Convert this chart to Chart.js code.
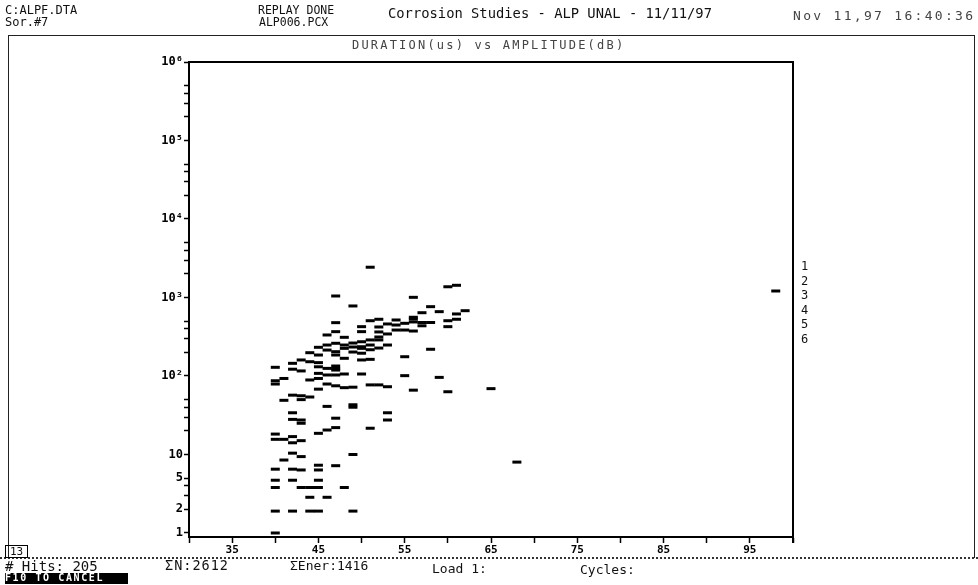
<!DOCTYPE html>
<html>
<head>
<meta charset="utf-8">
<script src="https://cdn.jsdelivr.net/npm/chart.js@4.4.1/dist/chart.umd.min.js"></script>
<style>
  html, body { margin: 0; padding: 0; background: #fff; }
  #wrap { position: relative; width: 978px; height: 585px; overflow: hidden; background: #fff;
          font-family: "DejaVu Sans Mono", "Liberation Mono", monospace; color: #111; }
  #wrap canvas { position: absolute; left: 0; top: 0; }
  .t { position: absolute; white-space: pre; line-height: 1; }
  .box { position: absolute; border-top: 1.5px solid #222; border-left: 1.5px solid #222; border-right: 1.5px solid #222; }
  .dots { position: absolute; border-top: 2px dotted #333; }
</style>
</head>
<body>
<div id="wrap">
  <canvas id="c" width="978" height="585"></canvas>

  <div class="box" style="left:8px; top:35px; width:965px; height:522px;"></div>
  <div class="dots" style="left:0; top:557px; width:978px;"></div>

  <div class="t" style="left:5px; top:4px; font-size:12px;">C:ALPF.DTA</div>
  <div class="t" style="left:5px; top:16px; font-size:12px;">Sor.#7</div>
  <div class="t" style="left:258px; top:5px; font-size:11.5px;">REPLAY DONE</div>
  <div class="t" style="left:259px; top:17px; font-size:11.5px;">ALP006.PCX</div>
  <div class="t" style="left:388px; top:7px; font-size:13.8px;">Corrosion Studies - ALP UNAL - 11/11/97</div>
  <div class="t" style="left:793px; top:9px; font-size:13px; letter-spacing:2.3px; color:#444;">Nov 11,97 16:40:36</div>
  <div class="t" style="left:352px; top:39px; font-size:12px; letter-spacing:2.2px; color:#444;">DURATION(us) vs AMPLITUDE(dB)</div>

  <div id="series" style="position:absolute; left:801px; top:0;"></div>

  <div class="t" style="left:5px; top:545px; width:21px; height:11px; border:1px solid #000; font-size:11px; text-align:center;">13</div>
  <div class="t" style="left:5px; top:559px; font-size:14px;"># Hits: 205</div>
  <div class="t" style="left:165px; top:559px; font-size:13.5px; letter-spacing:1px;">ΣN:2612</div>
  <div class="t" style="left:290px; top:559px; font-size:13px;">ΣEner:1416</div>
  <div class="t" style="left:432px; top:562px; font-size:13px;">Load 1:</div>
  <div class="t" style="left:580px; top:563px; font-size:13px;">Cycles:</div>
  <div class="t" style="left:5px; top:573px; width:123px; height:11px; background:#000; color:#fff; font-size:10px; letter-spacing:1.6px; font-weight:bold;">F10 TO CANCEL</div>
</div>

<script>
// Hit amplitude (dB) and duration (us), one entry per plotted hit
const amplitudeDb = [
  51, 60, 61, 47, 56, 49, 58, 57, 59, 61, 62, 61, 60, 60, 56, 56, 57, 58, 56, 54,
  54, 55, 55, 53, 53, 51, 52, 52, 52, 52, 50, 50, 51, 52, 52, 53, 49, 49, 49, 50,
  50, 50, 51, 55, 58, 47, 46, 47, 45, 46, 47, 46, 47, 48, 47, 48, 44, 45, 43, 44,
  45, 42, 40, 42, 43, 45, 46, 47, 47, 45, 46, 47, 48, 45, 44, 40, 40, 41, 46, 47,
  48, 49, 50, 51, 52, 53, 55, 59, 56, 60, 65, 45, 42, 43, 44, 41, 43, 46, 49, 49,
  42, 53, 42, 43, 43, 47, 53, 47, 46, 45, 51, 40, 40, 41, 42, 42, 43, 42, 43, 41,
  49, 40, 42, 43, 45, 45, 47, 40, 42, 45, 40, 43, 44, 45, 48, 44, 46, 40, 42, 44,
  45, 49, 40, 98, 68, 57, 48, 51, 51, 50, 50, 48, 47, 56, 54
];
const durationUs = [
  2430, 1370, 1430, 1045, 1005, 780, 764, 640, 660, 617, 679, 528, 506, 425, 532, 488, 480, 480, 374, 517,
  446, 469, 385, 460, 343, 506, 528, 421, 364, 314, 425, 367, 288, 288, 227, 248, 263, 234, 202, 236,
  195, 160, 163, 176, 219, 478, 333, 367, 232, 248, 261, 214, 204, 225, 185, 168, 198, 185, 160, 152,
  148, 145, 129, 122, 116, 131, 125, 134, 125, 108, 103, 103, 106, 93, 89, 87, 79, 93, 79, 75,
  71, 72, 106, 77, 77, 73, 101, 96, 66, 63, 69, 68, 57, 56, 54, 49, 50, 41, 43, 40,
  34, 34, 28, 27.5, 25, 29, 27.5, 22, 20.5, 18.6, 21.6, 18.2, 15.6, 15.6, 16.9, 14.1, 15, 10.4, 9.4, 8.5,
  10, 6.5, 6.5, 6.35, 7.3, 6.35, 7.2, 4.7, 4.7, 4.7, 3.8, 3.8, 3.8, 3.8, 3.8, 2.85, 2.85, 1.9, 1.9, 1.9,
  1.9, 1.9, 1, 1210, 8, 436, 311, 248, 216, 273, 225, 248, 119, 560, 385
];

// Axis ticks
const xTickValues = [30, 35, 40, 45, 50, 55, 60, 65, 70, 75, 80, 85, 90, 95, 100];
const xTickLabels = ['', '35', '', '45', '', '55', '', '65', '', '75', '', '85', '', '95', ''];
const yTickValues = [1, 2, 3, 4, 5, 10, 20, 30, 40, 50, 100, 200, 300, 400, 500,
  1000, 2000, 3000, 4000, 5000, 10000, 20000, 30000, 40000, 50000,
  100000, 200000, 300000, 400000, 500000, 1000000];
const yTickLabels = ['1', '2', '', '', '5', '10', '', '', '', '', '10\u00B2', '', '', '', '',
  '10\u00B3', '', '', '', '', '10\u2074', '', '', '', '',
  '10\u2075', '', '', '', '', '10\u2076'];

// Channel numbers listed beside the plot
const seriesNumbers = ['1', '2', '3', '4', '5', '6'];

const seriesBox = document.getElementById('series');
seriesNumbers.forEach((n, i) => {
  const d = document.createElement('div');
  d.className = 't';
  d.style.left = '0px';
  d.style.top = (260 + i * 14.5) + 'px';
  d.style.fontSize = '12px';
  d.textContent = n;
  seriesBox.appendChild(d);
});

const points = amplitudeDb.map((a, i) => ({ x: a, y: durationUs[i] }));

// Closes the plot box on the top and right sides
const plotBox = {
  id: 'plotBox',
  afterDraw(chart) {
    const { ctx, chartArea: a } = chart;
    ctx.save();
    ctx.strokeStyle = '#000';
    ctx.lineWidth = 2;
    ctx.beginPath();
    ctx.moveTo(a.left, a.top);
    ctx.lineTo(a.right, a.top);
    ctx.lineTo(a.right, a.bottom + 6);
    ctx.stroke();
    ctx.restore();
  }
};

const tickFont = { family: '"DejaVu Sans Mono", monospace', size: 12, weight: 'bold' };

new Chart(document.getElementById('c'), {
  type: 'scatter',
  data: {
    datasets: [{
      data: points,
      pointStyle: 'line',
      pointRadius: 4.5,
      pointHoverRadius: 4.5,
      pointBorderWidth: 3,
      pointBorderColor: '#000',
      pointBackgroundColor: '#000'
    }]
  },
  options: {
    responsive: false,
    animation: false,
    devicePixelRatio: 1,
    layout: { padding: { left: 0, top: 62, right: 185, bottom: 28 } },
    plugins: { legend: { display: false }, tooltip: { enabled: false } },
    scales: {
      x: {
        type: 'linear',
        min: 30,
        max: 100,
        afterBuildTicks(axis) { axis.ticks = xTickValues.map(v => ({ value: v })); },
        afterFit(axis) { axis.height = 20; },
        ticks: {
          autoSkip: false,
          maxRotation: 0,
          padding: 1,
          color: '#000',
          font: { family: '"DejaVu Sans Mono", monospace', size: 11, weight: 'bold' },
          callback(value) {
            const i = xTickValues.indexOf(value);
            return i >= 0 ? xTickLabels[i] : '';
          }
        },
        grid: { drawOnChartArea: false, drawTicks: true, tickLength: 6, tickWidth: 1.5, tickColor: '#000' },
        border: { display: true, color: '#000', width: 2 }
      },
      y: {
        type: 'logarithmic',
        min: 0.889,
        max: 1000000,
        afterBuildTicks(axis) { axis.ticks = yTickValues.map(v => ({ value: v })); },
        afterFit(axis) { axis.width = 189; },
        ticks: {
          autoSkip: false,
          padding: 1,
          color: '#000',
          font: tickFont,
          callback(value) {
            const i = yTickValues.indexOf(value);
            return i >= 0 ? yTickLabels[i] : '';
          }
        },
        grid: { drawOnChartArea: false, drawTicks: true, tickLength: 5, tickWidth: 1.5, tickColor: '#000' },
        border: { display: true, color: '#000', width: 2 }
      }
    }
  },
  plugins: [plotBox]
});
</script>
</body>
</html>
